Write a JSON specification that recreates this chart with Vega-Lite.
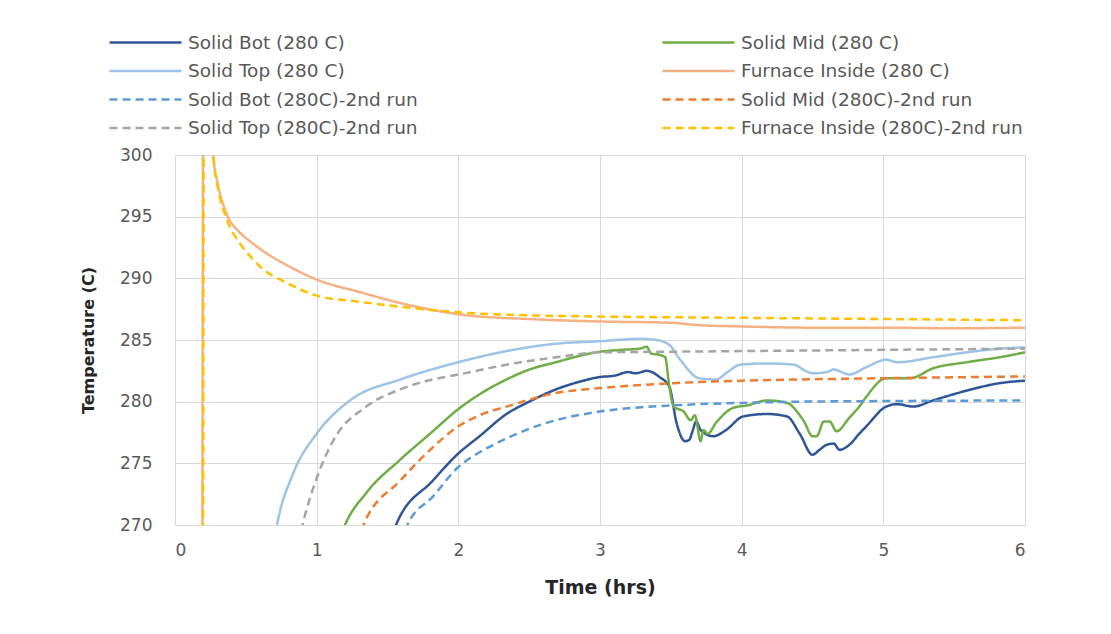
{
  "$schema": "https://vega.github.io/schema/vega-lite/v6.json",
  "width": 850,
  "height": 370,
  "autosize": {"type": "none"},
  "padding": {"left": 175, "top": 155, "right": 86, "bottom": 109},
  "background": "white",
  "config": {
    "view": {"stroke": null},
    "font": "DejaVu Sans",
    "axis": {"domain": false, "ticks": false, "gridColor": "#d9d9d9", "gridWidth": 1, "labelColor": "#595959", "labelFont": "DejaVu Sans", "labelFontSize": 17, "titleFont": "DejaVu Sans", "titleFontWeight": "bold", "titleColor": "#262626"}
  },
  "data": {"values": [
    {"s": "Solid Bot (280 C)", "t": 1.5, "T": 267},
    {"s": "Solid Bot (280 C)", "t": 1.56, "T": 270},
    {"s": "Solid Bot (280 C)", "t": 1.82, "T": 273.6},
    {"s": "Solid Bot (280 C)", "t": 2.0, "T": 275.8},
    {"s": "Solid Bot (280 C)", "t": 2.15, "T": 277.2},
    {"s": "Solid Bot (280 C)", "t": 2.34, "T": 279.0},
    {"s": "Solid Bot (280 C)", "t": 2.5, "T": 280.0},
    {"s": "Solid Bot (280 C)", "t": 2.69, "T": 281.0},
    {"s": "Solid Bot (280 C)", "t": 2.85, "T": 281.6},
    {"s": "Solid Bot (280 C)", "t": 3.0, "T": 282.0},
    {"s": "Solid Bot (280 C)", "t": 3.1, "T": 282.1},
    {"s": "Solid Bot (280 C)", "t": 3.2, "T": 282.4},
    {"s": "Solid Bot (280 C)", "t": 3.25, "T": 282.3},
    {"s": "Solid Bot (280 C)", "t": 3.33, "T": 282.5},
    {"s": "Solid Bot (280 C)", "t": 3.42, "T": 282.0},
    {"s": "Solid Bot (280 C)", "t": 3.49, "T": 281.2},
    {"s": "Solid Bot (280 C)", "t": 3.54, "T": 278.3},
    {"s": "Solid Bot (280 C)", "t": 3.6, "T": 276.8},
    {"s": "Solid Bot (280 C)", "t": 3.63, "T": 276.9},
    {"s": "Solid Bot (280 C)", "t": 3.65, "T": 277.5},
    {"s": "Solid Bot (280 C)", "t": 3.68, "T": 278.4},
    {"s": "Solid Bot (280 C)", "t": 3.71, "T": 277.7},
    {"s": "Solid Bot (280 C)", "t": 3.8, "T": 277.2},
    {"s": "Solid Bot (280 C)", "t": 3.89, "T": 277.7},
    {"s": "Solid Bot (280 C)", "t": 4.01, "T": 278.8},
    {"s": "Solid Bot (280 C)", "t": 4.18, "T": 279.0},
    {"s": "Solid Bot (280 C)", "t": 4.32, "T": 278.8},
    {"s": "Solid Bot (280 C)", "t": 4.41, "T": 277.4},
    {"s": "Solid Bot (280 C)", "t": 4.5, "T": 275.7},
    {"s": "Solid Bot (280 C)", "t": 4.55, "T": 276.1},
    {"s": "Solid Bot (280 C)", "t": 4.6, "T": 276.5},
    {"s": "Solid Bot (280 C)", "t": 4.65, "T": 276.6},
    {"s": "Solid Bot (280 C)", "t": 4.69, "T": 276.1},
    {"s": "Solid Bot (280 C)", "t": 4.76, "T": 276.5},
    {"s": "Solid Bot (280 C)", "t": 4.83, "T": 277.4},
    {"s": "Solid Bot (280 C)", "t": 4.88, "T": 278.0},
    {"s": "Solid Bot (280 C)", "t": 5.02, "T": 279.6},
    {"s": "Solid Bot (280 C)", "t": 5.1, "T": 279.8},
    {"s": "Solid Bot (280 C)", "t": 5.21, "T": 279.6},
    {"s": "Solid Bot (280 C)", "t": 5.35, "T": 280.1},
    {"s": "Solid Bot (280 C)", "t": 5.59, "T": 280.9},
    {"s": "Solid Bot (280 C)", "t": 5.82, "T": 281.5},
    {"s": "Solid Bot (280 C)", "t": 6.0, "T": 281.7},

    {"s": "Solid Mid (280 C)", "t": 1.15, "T": 268.5},
    {"s": "Solid Mid (280 C)", "t": 1.2, "T": 270},
    {"s": "Solid Mid (280 C)", "t": 1.35, "T": 272.6},
    {"s": "Solid Mid (280 C)", "t": 1.59, "T": 275.3},
    {"s": "Solid Mid (280 C)", "t": 1.82, "T": 277.6},
    {"s": "Solid Mid (280 C)", "t": 2.0, "T": 279.4},
    {"s": "Solid Mid (280 C)", "t": 2.15, "T": 280.6},
    {"s": "Solid Mid (280 C)", "t": 2.34, "T": 281.8},
    {"s": "Solid Mid (280 C)", "t": 2.5, "T": 282.6},
    {"s": "Solid Mid (280 C)", "t": 2.69, "T": 283.2},
    {"s": "Solid Mid (280 C)", "t": 2.85, "T": 283.7},
    {"s": "Solid Mid (280 C)", "t": 3.0, "T": 284.05},
    {"s": "Solid Mid (280 C)", "t": 3.15, "T": 284.2},
    {"s": "Solid Mid (280 C)", "t": 3.28, "T": 284.3},
    {"s": "Solid Mid (280 C)", "t": 3.33, "T": 284.45},
    {"s": "Solid Mid (280 C)", "t": 3.36, "T": 283.9},
    {"s": "Solid Mid (280 C)", "t": 3.42, "T": 283.8},
    {"s": "Solid Mid (280 C)", "t": 3.46, "T": 283.6},
    {"s": "Solid Mid (280 C)", "t": 3.49, "T": 281.2},
    {"s": "Solid Mid (280 C)", "t": 3.52, "T": 279.6},
    {"s": "Solid Mid (280 C)", "t": 3.59, "T": 279.2},
    {"s": "Solid Mid (280 C)", "t": 3.64, "T": 278.5},
    {"s": "Solid Mid (280 C)", "t": 3.67, "T": 278.9},
    {"s": "Solid Mid (280 C)", "t": 3.71, "T": 276.8},
    {"s": "Solid Mid (280 C)", "t": 3.73, "T": 277.7},
    {"s": "Solid Mid (280 C)", "t": 3.76, "T": 277.4},
    {"s": "Solid Mid (280 C)", "t": 3.82, "T": 278.3},
    {"s": "Solid Mid (280 C)", "t": 3.94, "T": 279.5},
    {"s": "Solid Mid (280 C)", "t": 4.04, "T": 279.7},
    {"s": "Solid Mid (280 C)", "t": 4.18, "T": 280.1},
    {"s": "Solid Mid (280 C)", "t": 4.32, "T": 279.9},
    {"s": "Solid Mid (280 C)", "t": 4.41, "T": 278.9},
    {"s": "Solid Mid (280 C)", "t": 4.44, "T": 278.4},
    {"s": "Solid Mid (280 C)", "t": 4.5, "T": 277.2},
    {"s": "Solid Mid (280 C)", "t": 4.53, "T": 277.2},
    {"s": "Solid Mid (280 C)", "t": 4.58, "T": 278.4},
    {"s": "Solid Mid (280 C)", "t": 4.62, "T": 278.4},
    {"s": "Solid Mid (280 C)", "t": 4.67, "T": 277.6},
    {"s": "Solid Mid (280 C)", "t": 4.76, "T": 278.7},
    {"s": "Solid Mid (280 C)", "t": 4.83, "T": 279.6},
    {"s": "Solid Mid (280 C)", "t": 4.88, "T": 280.4},
    {"s": "Solid Mid (280 C)", "t": 5.02, "T": 281.9},
    {"s": "Solid Mid (280 C)", "t": 5.19, "T": 281.9},
    {"s": "Solid Mid (280 C)", "t": 5.35, "T": 282.7},
    {"s": "Solid Mid (280 C)", "t": 5.59, "T": 283.2},
    {"s": "Solid Mid (280 C)", "t": 5.82, "T": 283.6},
    {"s": "Solid Mid (280 C)", "t": 6.0, "T": 284.0},

    {"s": "Solid Top (280 C)", "t": 0.69, "T": 268},
    {"s": "Solid Top (280 C)", "t": 0.72, "T": 270},
    {"s": "Solid Top (280 C)", "t": 0.835, "T": 274.2},
    {"s": "Solid Top (280 C)", "t": 1.0, "T": 277.4},
    {"s": "Solid Top (280 C)", "t": 1.235, "T": 280.1},
    {"s": "Solid Top (280 C)", "t": 1.59, "T": 281.8},
    {"s": "Solid Top (280 C)", "t": 1.87, "T": 282.8},
    {"s": "Solid Top (280 C)", "t": 2.0, "T": 283.2},
    {"s": "Solid Top (280 C)", "t": 2.34, "T": 284.1},
    {"s": "Solid Top (280 C)", "t": 2.69, "T": 284.7},
    {"s": "Solid Top (280 C)", "t": 3.0, "T": 284.9},
    {"s": "Solid Top (280 C)", "t": 3.28, "T": 285.1},
    {"s": "Solid Top (280 C)", "t": 3.4, "T": 285.0},
    {"s": "Solid Top (280 C)", "t": 3.49, "T": 284.6},
    {"s": "Solid Top (280 C)", "t": 3.56, "T": 283.5},
    {"s": "Solid Top (280 C)", "t": 3.7, "T": 281.9},
    {"s": "Solid Top (280 C)", "t": 3.82, "T": 281.8},
    {"s": "Solid Top (280 C)", "t": 3.9, "T": 282.4},
    {"s": "Solid Top (280 C)", "t": 3.99, "T": 283.0},
    {"s": "Solid Top (280 C)", "t": 4.18, "T": 283.1},
    {"s": "Solid Top (280 C)", "t": 4.37, "T": 283.0},
    {"s": "Solid Top (280 C)", "t": 4.45, "T": 282.5},
    {"s": "Solid Top (280 C)", "t": 4.5, "T": 282.3},
    {"s": "Solid Top (280 C)", "t": 4.6, "T": 282.4},
    {"s": "Solid Top (280 C)", "t": 4.65, "T": 282.6},
    {"s": "Solid Top (280 C)", "t": 4.76, "T": 282.2},
    {"s": "Solid Top (280 C)", "t": 4.88, "T": 282.8},
    {"s": "Solid Top (280 C)", "t": 5.02, "T": 283.4},
    {"s": "Solid Top (280 C)", "t": 5.1, "T": 283.2},
    {"s": "Solid Top (280 C)", "t": 5.35, "T": 283.6},
    {"s": "Solid Top (280 C)", "t": 5.59, "T": 284.0},
    {"s": "Solid Top (280 C)", "t": 5.82, "T": 284.3},
    {"s": "Solid Top (280 C)", "t": 6.0, "T": 284.4},

    {"s": "Furnace Inside (280 C)", "t": 0.19, "T": 240},
    {"s": "Furnace Inside (280 C)", "t": 0.205, "T": 330},
    {"s": "Furnace Inside (280 C)", "t": 0.25, "T": 304},
    {"s": "Furnace Inside (280 C)", "t": 0.27, "T": 300},
    {"s": "Furnace Inside (280 C)", "t": 0.3, "T": 297.8},
    {"s": "Furnace Inside (280 C)", "t": 0.365, "T": 295.2},
    {"s": "Furnace Inside (280 C)", "t": 0.45, "T": 293.8},
    {"s": "Furnace Inside (280 C)", "t": 0.53, "T": 293.0},
    {"s": "Furnace Inside (280 C)", "t": 0.65, "T": 292.0},
    {"s": "Furnace Inside (280 C)", "t": 0.8, "T": 291.0},
    {"s": "Furnace Inside (280 C)", "t": 1.0, "T": 289.9},
    {"s": "Furnace Inside (280 C)", "t": 1.3, "T": 288.9},
    {"s": "Furnace Inside (280 C)", "t": 1.59, "T": 288.0},
    {"s": "Furnace Inside (280 C)", "t": 2.06, "T": 287.0},
    {"s": "Furnace Inside (280 C)", "t": 2.5, "T": 286.7},
    {"s": "Furnace Inside (280 C)", "t": 3.0, "T": 286.5},
    {"s": "Furnace Inside (280 C)", "t": 3.5, "T": 286.4},
    {"s": "Furnace Inside (280 C)", "t": 3.7, "T": 286.2},
    {"s": "Furnace Inside (280 C)", "t": 4.0, "T": 286.1},
    {"s": "Furnace Inside (280 C)", "t": 4.5, "T": 286.0},
    {"s": "Furnace Inside (280 C)", "t": 5.0, "T": 286.0},
    {"s": "Furnace Inside (280 C)", "t": 5.5, "T": 285.95},
    {"s": "Furnace Inside (280 C)", "t": 6.0, "T": 286.0},

    {"s": "Solid Bot (280C)-2nd run", "t": 1.62, "T": 268.5},
    {"s": "Solid Bot (280C)-2nd run", "t": 1.64, "T": 270},
    {"s": "Solid Bot (280C)-2nd run", "t": 1.82, "T": 272.3},
    {"s": "Solid Bot (280C)-2nd run", "t": 2.0, "T": 274.7},
    {"s": "Solid Bot (280C)-2nd run", "t": 2.15, "T": 275.9},
    {"s": "Solid Bot (280C)-2nd run", "t": 2.3, "T": 276.8},
    {"s": "Solid Bot (280C)-2nd run", "t": 2.5, "T": 277.8},
    {"s": "Solid Bot (280C)-2nd run", "t": 2.69, "T": 278.5},
    {"s": "Solid Bot (280C)-2nd run", "t": 3.0, "T": 279.2},
    {"s": "Solid Bot (280C)-2nd run", "t": 3.52, "T": 279.7},
    {"s": "Solid Bot (280C)-2nd run", "t": 4.0, "T": 279.9},
    {"s": "Solid Bot (280C)-2nd run", "t": 4.41, "T": 280.0},
    {"s": "Solid Bot (280C)-2nd run", "t": 5.0, "T": 280.05},
    {"s": "Solid Bot (280C)-2nd run", "t": 6.0, "T": 280.1},

    {"s": "Solid Mid (280C)-2nd run", "t": 1.31, "T": 268.5},
    {"s": "Solid Mid (280C)-2nd run", "t": 1.33, "T": 270},
    {"s": "Solid Mid (280C)-2nd run", "t": 1.59, "T": 273.6},
    {"s": "Solid Mid (280C)-2nd run", "t": 1.82, "T": 276.3},
    {"s": "Solid Mid (280C)-2nd run", "t": 2.0, "T": 278.0},
    {"s": "Solid Mid (280C)-2nd run", "t": 2.15, "T": 278.9},
    {"s": "Solid Mid (280C)-2nd run", "t": 2.34, "T": 279.6},
    {"s": "Solid Mid (280C)-2nd run", "t": 2.69, "T": 280.7},
    {"s": "Solid Mid (280C)-2nd run", "t": 3.0, "T": 281.1},
    {"s": "Solid Mid (280C)-2nd run", "t": 3.52, "T": 281.5},
    {"s": "Solid Mid (280C)-2nd run", "t": 4.0, "T": 281.7},
    {"s": "Solid Mid (280C)-2nd run", "t": 4.41, "T": 281.8},
    {"s": "Solid Mid (280C)-2nd run", "t": 5.0, "T": 281.9},
    {"s": "Solid Mid (280C)-2nd run", "t": 6.0, "T": 282.05},

    {"s": "Solid Top (280C)-2nd run", "t": 0.87, "T": 268.5},
    {"s": "Solid Top (280C)-2nd run", "t": 0.9, "T": 270},
    {"s": "Solid Top (280C)-2nd run", "t": 1.0, "T": 273.8},
    {"s": "Solid Top (280C)-2nd run", "t": 1.12, "T": 276.9},
    {"s": "Solid Top (280C)-2nd run", "t": 1.35, "T": 279.6},
    {"s": "Solid Top (280C)-2nd run", "t": 1.59, "T": 281.0},
    {"s": "Solid Top (280C)-2nd run", "t": 1.82, "T": 281.8},
    {"s": "Solid Top (280C)-2nd run", "t": 2.0, "T": 282.2},
    {"s": "Solid Top (280C)-2nd run", "t": 2.34, "T": 283.0},
    {"s": "Solid Top (280C)-2nd run", "t": 2.69, "T": 283.6},
    {"s": "Solid Top (280C)-2nd run", "t": 3.0, "T": 284.0},
    {"s": "Solid Top (280C)-2nd run", "t": 3.5, "T": 284.05},
    {"s": "Solid Top (280C)-2nd run", "t": 4.0, "T": 284.1},
    {"s": "Solid Top (280C)-2nd run", "t": 5.0, "T": 284.2},
    {"s": "Solid Top (280C)-2nd run", "t": 6.0, "T": 284.3},

    {"s": "Furnace Inside (280C)-2nd run", "t": 0.195, "T": 240},
    {"s": "Furnace Inside (280C)-2nd run", "t": 0.21, "T": 330},
    {"s": "Furnace Inside (280C)-2nd run", "t": 0.25, "T": 305},
    {"s": "Furnace Inside (280C)-2nd run", "t": 0.27, "T": 300},
    {"s": "Furnace Inside (280C)-2nd run", "t": 0.3, "T": 297.5},
    {"s": "Furnace Inside (280C)-2nd run", "t": 0.365, "T": 294.8},
    {"s": "Furnace Inside (280C)-2nd run", "t": 0.46, "T": 292.8},
    {"s": "Furnace Inside (280C)-2nd run", "t": 0.53, "T": 291.8},
    {"s": "Furnace Inside (280C)-2nd run", "t": 0.65, "T": 290.5},
    {"s": "Furnace Inside (280C)-2nd run", "t": 0.76, "T": 289.8},
    {"s": "Furnace Inside (280C)-2nd run", "t": 1.0, "T": 288.6},
    {"s": "Furnace Inside (280C)-2nd run", "t": 1.3, "T": 288.1},
    {"s": "Furnace Inside (280C)-2nd run", "t": 1.59, "T": 287.7},
    {"s": "Furnace Inside (280C)-2nd run", "t": 2.06, "T": 287.2},
    {"s": "Furnace Inside (280C)-2nd run", "t": 2.5, "T": 287.0},
    {"s": "Furnace Inside (280C)-2nd run", "t": 3.0, "T": 286.9},
    {"s": "Furnace Inside (280C)-2nd run", "t": 4.0, "T": 286.8},
    {"s": "Furnace Inside (280C)-2nd run", "t": 5.0, "T": 286.7},
    {"s": "Furnace Inside (280C)-2nd run", "t": 6.0, "T": 286.6}
  ]},
  "mark": {"type": "line", "clip": true, "strokeWidth": 2.5, "interpolate": "monotone"},
  "encoding": {
    "x": {"field": "t", "type": "quantitative", "title": "Time (hrs)", "scale": {"domain": [0, 6], "nice": false},
      "axis": {"values": [0, 1, 2, 3, 4, 5, 6], "labelPadding": 17, "titlePadding": 20, "titleFontSize": 19}},
    "y": {"field": "T", "type": "quantitative", "title": "Temperature (C)", "scale": {"domain": [270, 300], "nice": false, "zero": false},
      "axis": {"values": [270, 275, 280, 285, 290, 295, 300], "labelPadding": 23, "titlePadding": 23, "titleFontSize": 16}},
    "order": {"field": "t", "type": "quantitative"},
    "color": {"field": "s", "type": "nominal", "title": null,
      "scale": {
        "domain": ["Solid Bot (280 C)", "Solid Top (280 C)", "Solid Bot (280C)-2nd run", "Solid Top (280C)-2nd run", "Solid Mid (280 C)", "Furnace Inside (280 C)", "Solid Mid (280C)-2nd run", "Furnace Inside (280C)-2nd run"],
        "range": ["#2F5597", "#9DC3E6", "#5B9BD5", "#A5A5A5", "#70AD47", "#F4B183", "#ED7D31", "#FFC000"]
      },
      "legend": {"orient": "none", "legendX": -67, "legendY": -126, "columns": 2, "columnPadding": 239, "rowPadding": 5.5,
        "symbolType": "M-1,0L5,0", "symbolSize": 576, "symbolStrokeWidth": 2.5, "labelFontSize": 18.5, "labelColor": "#595959", "labelFont": "DejaVu Sans", "labelOffset": 53, "labelLimit": 400}
    },
    "strokeDash": {"field": "s", "type": "nominal", "title": null,
      "scale": {
        "domain": ["Solid Bot (280 C)", "Solid Top (280 C)", "Solid Bot (280C)-2nd run", "Solid Top (280C)-2nd run", "Solid Mid (280 C)", "Furnace Inside (280 C)", "Solid Mid (280C)-2nd run", "Furnace Inside (280C)-2nd run"],
        "range": [[1, 0], [1, 0], [8, 5], [8, 5], [1, 0], [1, 0], [8, 5], [8, 5]]
      }
    }
  }
}
